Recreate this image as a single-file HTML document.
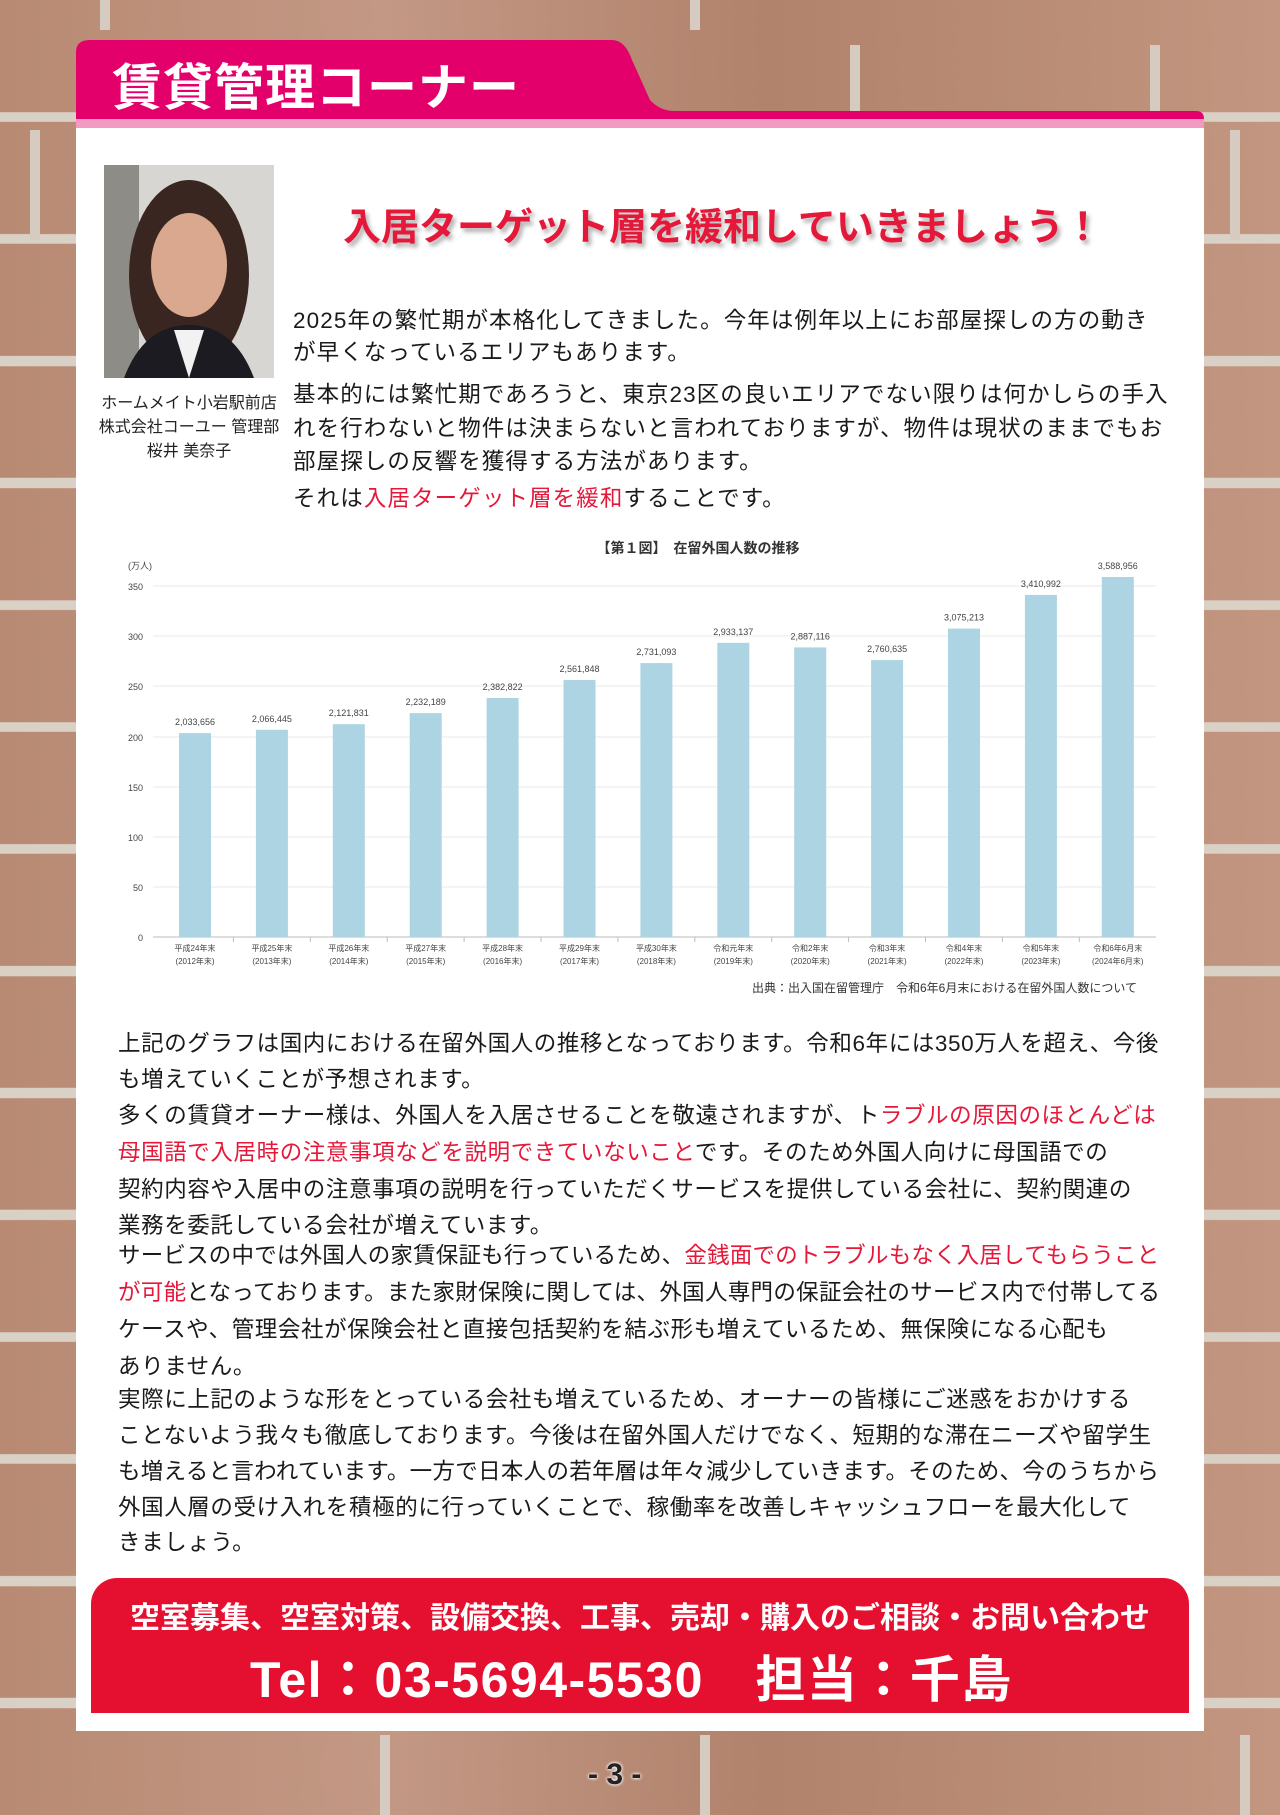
<!DOCTYPE html>
<html><head><meta charset="utf-8">
<style>
*{margin:0;padding:0;box-sizing:border-box}
body{width:1280px;height:1810px;position:relative;overflow:hidden;font-family:"Liberation Sans","Noto Sans CJK JP",sans-serif;
background-color:#b98b74;
background-image:
 repeating-linear-gradient(180deg,transparent 0,transparent 112px,#d9d0c6 112px,#d9d0c6 122px),
 linear-gradient(90deg,#b88a73,#c39884 30%,#b1826c 60%,#c29680);
}
.v{position:absolute;width:10px;background:#d5cbc0}
.panel{position:absolute;left:76px;top:119px;width:1128px;height:1612px;background:#fff}
.t{position:absolute;white-space:nowrap}
.body{font-size:22.5px;color:#1a1a1a;letter-spacing:0.6px}
.b1{letter-spacing:1.1px}
.r{color:#e5183a}
</style></head><body>
<div class="v" style="left:100px;top:0;height:30px"></div>
<div class="v" style="left:690px;top:0;height:30px"></div>
<div class="v" style="left:850px;top:45px;height:70px"></div>
<div class="v" style="left:1150px;top:45px;height:70px"></div>
<div class="v" style="left:30px;top:130px;height:110px"></div>
<div class="v" style="left:1230px;top:130px;height:110px"></div>
<div class="v" style="left:1240px;top:1735px;height:80px"></div>
<div class="v" style="left:380px;top:1735px;height:80px"></div>
<div class="v" style="left:700px;top:1735px;height:80px"></div>

<div class="panel"></div>
<svg style="position:absolute;left:0;top:0" width="1280" height="130">
<path d="M76 52 Q76 40 90 40 L612 40 Q625 40 632 60 L650 100 Q660 111 675 111 L1196 111 Q1204 111 1204 119 L1204 128 L76 128 Z" fill="#e4006b"/>
<rect x="76" y="119" width="1128" height="9" fill="#f29ac0"/>
</svg>
<div class="t" style="left:112px;top:48px;font-size:50px;color:#fff;font-weight:bold;letter-spacing:1px">賃貸管理コーナー</div>

<svg style="position:absolute;left:104px;top:165px" width="170" height="213">
<rect width="170" height="213" fill="#d8d6d2"/>
<rect x="0" y="0" width="35" height="213" fill="#8d8c86"/>
<ellipse cx="85" cy="110" rx="60" ry="95" fill="#3a2620"/>
<ellipse cx="85" cy="100" rx="38" ry="52" fill="#d9a88e"/>
<path d="M20 213 Q40 160 85 160 Q130 160 150 213Z" fill="#1d1b22"/>
<path d="M70 165 L85 213 L100 165Z" fill="#f2f2f2"/>
</svg>
<div class="t" style="left:92px;top:392px;width:194px;text-align:center;font-size:16px;line-height:24px;color:#222">ホームメイト小岩駅前店<br>株式会社コーユー 管理部<br>桜井 美奈子</div>

<div class="t" style="left:343px;top:196px;font-size:38px;font-weight:bold;color:#e5183a;text-shadow:3px 4px 4px rgba(0,0,0,0.3)">入居ターゲット層を緩和していきましょう！</div>

<div class="t body b1" style="left:293px;top:303px">2025年の繁忙期が本格化してきました。今年は例年以上にお部屋探しの方の動き</div>
<div class="t body b1" style="left:293px;top:335px">が早くなっているエリアもあります。</div>
<div class="t body b1" style="left:293px;top:377px">基本的には繁忙期であろうと、東京23区の良いエリアでない限りは何かしらの手入</div>
<div class="t body b1" style="left:293px;top:411px">れを行わないと物件は決まらないと言われておりますが、物件は現状のままでもお</div>
<div class="t body b1" style="left:293px;top:444px">部屋探しの反響を獲得する方法があります。</div>
<div class="t body b1" style="left:293px;top:481px">それは<span class="r">入居ターゲット層を緩和</span>することです。</div>

<svg style="position:absolute;left:0;top:530px" width="1280" height="470" font-family="Liberation Sans, Noto Sans CJK JP, sans-serif">
<text x="698" y="23" font-size="14" font-weight="bold" text-anchor="middle" fill="#333">【第１図】　在留外国人数の推移</text>
<text x="128" y="39" font-size="9" fill="#444">(万人)</text>
<g stroke="#e8e8e8" stroke-width="1">
<line x1="153" x2="1156" y1="56" y2="56"/><line x1="153" x2="1156" y1="106" y2="106"/>
<line x1="153" x2="1156" y1="156" y2="156"/><line x1="153" x2="1156" y1="207" y2="207"/>
<line x1="153" x2="1156" y1="257" y2="257"/><line x1="153" x2="1156" y1="307" y2="307"/>
<line x1="153" x2="1156" y1="357" y2="357"/>
</g>
<line x1="153" x2="1156" y1="407" y2="407" stroke="#bbb"/>
<g font-size="9" fill="#444" text-anchor="end">
<text x="143" y="60">350</text><text x="143" y="110">300</text><text x="143" y="160">250</text>
<text x="143" y="211">200</text><text x="143" y="261">150</text><text x="143" y="311">100</text>
<text x="143" y="361">50</text><text x="143" y="411">0</text>
</g>
<g id="bars"></g>
</svg>
<div class="t" style="left:752px;top:979px;font-size:12px;color:#333">出典：出入国在留管理庁　令和6年6月末における在留外国人数について</div>

<div class="t body" style="left:118px;top:1026px">上記のグラフは国内における在留外国人の推移となっております。令和6年には350万人を超え、今後</div>
<div class="t body" style="left:118px;top:1062px">も増えていくことが予想されます。</div>
<div class="t body" style="left:118px;top:1098px">多くの賃貸オーナー様は、外国人を入居させることを敬遠されますが、ト<span class="r">ラブルの原因のほとんどは</span></div>
<div class="t body" style="left:118px;top:1135px"><span class="r">母国語で入居時の注意事項などを説明できていないこと</span>です。そのため外国人向けに母国語での</div>
<div class="t body" style="left:118px;top:1172px">契約内容や入居中の注意事項の説明を行っていただくサービスを提供している会社に、契約関連の</div>
<div class="t body" style="left:118px;top:1208px">業務を委託している会社が増えています。</div>
<div class="t body" style="left:118px;top:1238px;letter-spacing:0.2px">サービスの中では外国人の家賃保証も行っているため、<span class="r">金銭面でのトラブルもなく入居してもらうこと</span></div>
<div class="t body" style="left:118px;top:1275px;letter-spacing:0.3px"><span class="r">が可能</span>となっております。また家財保険に関しては、外国人専門の保証会社のサービス内で付帯してる</div>
<div class="t body" style="left:118px;top:1312px">ケースや、管理会社が保険会社と直接包括契約を結ぶ形も増えているため、無保険になる心配も</div>
<div class="t body" style="left:118px;top:1349px">ありません。</div>
<div class="t body" style="left:118px;top:1382px">実際に上記のような形をとっている会社も増えているため、オーナーの皆様にご迷惑をおかけする</div>
<div class="t body" style="left:118px;top:1418px">ことないよう我々も徹底しております。今後は在留外国人だけでなく、短期的な滞在ニーズや留学生</div>
<div class="t body" style="left:118px;top:1454px;letter-spacing:0.3px">も増えると言われています。一方で日本人の若年層は年々減少していきます。そのため、今のうちから</div>
<div class="t body" style="left:118px;top:1490px">外国人層の受け入れを積極的に行っていくことで、稼働率を改善しキャッシュフローを最大化して</div>
<div class="t body" style="left:118px;top:1525px">きましょう。</div>

<div style="position:absolute;left:91px;top:1578px;width:1098px;height:135px;background:#e5102f;border-radius:26px 26px 0 0"></div>
<div class="t" style="left:91px;top:1593px;width:1098px;text-align:center;font-size:30px;font-weight:bold;color:#fff;letter-spacing:0px">空室募集、空室対策、設備交換、工事、売却・購入のご相談・お問い合わせ</div>
<div class="t" style="left:250px;top:1640px;font-size:50px;font-weight:bold;color:#fff;letter-spacing:1.5px">Tel：03-5694-5530　担当：千島</div>

<div class="t" style="left:588px;top:1758px;font-size:30px;font-weight:bold;color:#222;text-shadow:0 0 3px #fff,0 0 3px #fff">- 3 -</div>

<script>
var v=[203.3,206.6,212.2,223.2,238.3,256.2,273.1,293.3,288.7,276.1,307.5,341.1,358.9];
var l=["2,033,656","2,066,445","2,121,831","2,232,189","2,382,822","2,561,848","2,731,093","2,933,137","2,887,116","2,760,635","3,075,213","3,410,992","3,588,956"];
var a=["平成24年末","平成25年末","平成26年末","平成27年末","平成28年末","平成29年末","平成30年末","令和元年末","令和2年末","令和3年末","令和4年末","令和5年末","令和6年6月末"];
var b=["(2012年末)","(2013年末)","(2014年末)","(2015年末)","(2016年末)","(2017年末)","(2018年末)","(2019年末)","(2020年末)","(2021年末)","(2022年末)","(2023年末)","(2024年6月末)"];
var s="";
for(var i=0;i<13;i++){var cx=195+i*76.9,h=v[i]*1.003,y=407-h;
s+='<rect x="'+(cx-16)+'" y="'+y+'" width="32" height="'+h+'" fill="#add4e2"/>';
s+='<text x="'+cx+'" y="'+(y-8)+'" font-size="9" text-anchor="middle" fill="#444">'+l[i]+'</text>';
s+='<text x="'+cx+'" y="421" font-size="8" text-anchor="middle" fill="#444">'+a[i]+'</text>';
s+='<text x="'+cx+'" y="434" font-size="8" text-anchor="middle" fill="#444">'+b[i]+'</text>';
if(i>0)s+='<line x1="'+(cx-38.5)+'" x2="'+(cx-38.5)+'" y1="407" y2="412" stroke="#bbb"/>';}
document.getElementById("bars").innerHTML=s;
</script>
</body></html>
